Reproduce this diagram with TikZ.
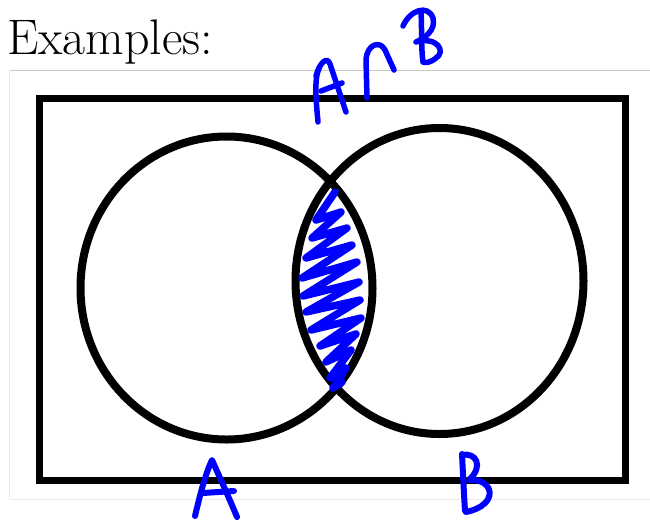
\documentclass[tikz,border=0pt]{standalone}
\begin{document}
\begin{tikzpicture}[x=1pt,y=-1pt,
  pen/.style={draw=blue, line width=5.5pt, line cap=round, line join=round},
  hatch/.style={draw=blue, line width=7.5pt, line cap=round, line join=round},
  venn/.style={draw=black, line width=8pt},
  frame/.style={draw=black, line width=7pt}]
\useasboundingbox (0,0) rectangle (650,523);
% page furniture
\node[anchor=base west, inner sep=0pt, font=\fontsize{50}{54}\selectfont] (title) at (7,54) {Examples:};
\draw[draw=black!22, line width=1pt] (9,70) -- (650,70);
\draw[draw=black!8, line width=1pt] (9,70) -- (9,499) -- (650,499);
% universe
\draw[frame] (39.5,98.5) rectangle (625.5,480);
% sets
\coordinate (ca) at (226.5,288);
\coordinate (cb) at (439.5,281);
\draw[venn] (ca) ellipse [x radius=146pt, y radius=151.5pt];
\draw[venn] (cb) ellipse [x radius=144pt, y radius=153pt];
% shading of intersection
\draw[hatch] (335,192) -- (316,220) -- (341,212) -- (312,238) -- (347,228) -- (306,258)
  -- (352,245) -- (302,278) -- (357,262) -- (303,296) -- (359,282) -- (306,312)
  -- (360,300) -- (311,330) -- (361,318) -- (320,346) -- (356,334) -- (326,362)
  -- (351,350) -- (330,378) -- (346,368) -- (333,388) -- (342,382);
% label A cap B
\draw[pen] (318,122) .. controls (316,100) and (314,80) .. (319,68);
\draw[pen] (316,76) .. controls (320,62) and (327,56) .. (330,64) -- (346,112);
\draw[pen] (321,91) -- (342,83);
\draw[pen] (367,98) -- (366,60) .. controls (367,44) and (380,40) .. (385,50) -- (394,70);
\draw[pen] (421,12) .. controls (422,30) and (421,48) .. (423,62);
\draw[pen] (403,26) .. controls (410,10) and (428,4) .. (433,18)
  .. controls (436,30) and (425,38) .. (416,42)
  .. controls (438,36) and (446,52) .. (436,58) .. controls (430,63) and (425,63) .. (423,62);
% label A
\draw[pen, line width=6pt] (195,516) .. controls (200,495) and (205,475) .. (212,460)
  .. controls (220,478) and (230,500) .. (237,517);
\draw[pen, line width=6pt] (203,493) -- (234,491);
% label B
\draw[pen, line width=6pt] (462,454) .. controls (463,475) and (464,495) .. (465,511);
\draw[pen, line width=6pt] (462,455) .. controls (476,452) and (484,466) .. (469,480)
  .. controls (494,478) and (500,505) .. (466,512);
\end{tikzpicture}
\end{document}
